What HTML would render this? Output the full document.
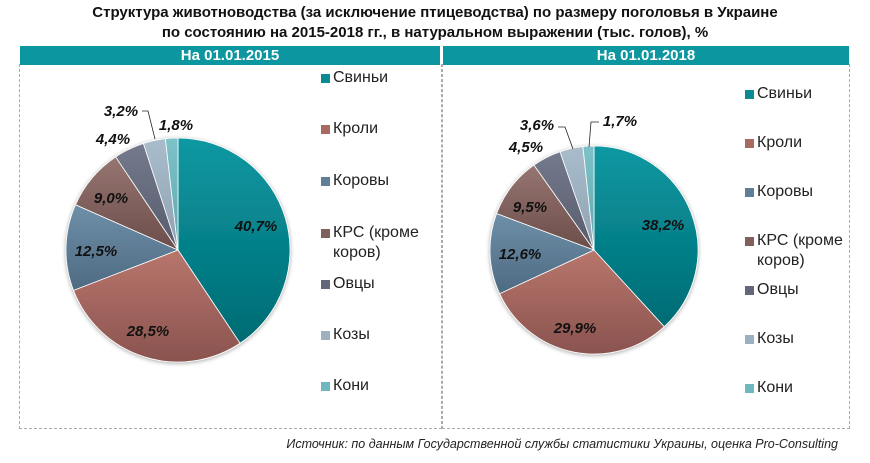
<!DOCTYPE html>
<html><head><meta charset="utf-8"><style>
body{margin:0;width:870px;height:463px;background:#fff;font-family:"Liberation Sans",sans-serif;overflow:hidden;position:relative}
.t{position:absolute;left:0;width:870px;text-align:center;font-weight:bold;font-size:15px;color:#111}
.bar{position:absolute;top:46px;height:19px;background:#0b96a0;color:#fff;font-weight:bold;font-size:15px;text-align:center;line-height:19px}
.panel{position:absolute;border:1px dashed #aaa;border-top:none}
.lg{position:absolute;font-size:16px;color:#222;line-height:20px}
.lg i{position:absolute;left:-12px;top:6px;width:9px;height:9px}
.src{position:absolute;right:32px;top:437px;font-size:12.5px;font-style:italic;color:#222}
</style></head><body>
<div class="t" style="top:4px">Структура животноводства (за исключение птицеводства) по размеру поголовья в Украине</div>
<div class="t" style="top:24px">по состоянию на 2015-2018 гг., в натуральном выражении (тыс. голов), %</div>
<div class="panel" style="left:19px;top:64px;width:421px;height:364px"></div>
<div class="panel" style="left:442px;top:64px;width:406px;height:364px"></div>
<div class="bar" style="left:20px;width:420px">На 01.01.2015</div>
<div class="bar" style="left:443px;width:406px">На 01.01.2018</div>
<svg width="870" height="463" style="position:absolute;left:0;top:0" id="s">
<defs>
<filter id="sh" x="-20%" y="-20%" width="140%" height="140%"><feGaussianBlur in="SourceAlpha" stdDeviation="2"/><feOffset dx="0" dy="1"/><feComponentTransfer><feFuncA type="linear" slope="0.35"/></feComponentTransfer><feMerge><feMergeNode/><feMergeNode in="SourceGraphic"/></feMerge></filter>
<linearGradient id="g0" x1="0" y1="0" x2="0" y2="1"><stop offset="0" stop-color="#0c98a2"/><stop offset="1" stop-color="#006b73"/></linearGradient>
<linearGradient id="g1" x1="0" y1="0" x2="0" y2="1"><stop offset="0" stop-color="#b8766c"/><stop offset="1" stop-color="#8a534f"/></linearGradient>
<linearGradient id="g2" x1="0" y1="0" x2="0" y2="1"><stop offset="0" stop-color="#6f8fa8"/><stop offset="1" stop-color="#4d6a82"/></linearGradient>
<linearGradient id="g3" x1="0" y1="0" x2="0" y2="1"><stop offset="0" stop-color="#967571"/><stop offset="1" stop-color="#6b4d4a"/></linearGradient>
<linearGradient id="g4" x1="0" y1="0" x2="0" y2="1"><stop offset="0" stop-color="#747a8c"/><stop offset="1" stop-color="#575b6c"/></linearGradient>
<linearGradient id="g5" x1="0" y1="0" x2="0" y2="1"><stop offset="0" stop-color="#a9bccb"/><stop offset="1" stop-color="#8ea2b3"/></linearGradient>
<linearGradient id="g6" x1="0" y1="0" x2="0" y2="1"><stop offset="0" stop-color="#7cc2c8"/><stop offset="1" stop-color="#5fa9b0"/></linearGradient>
</defs>
<g id="p1" filter="url(#sh)"></g><g id="p2" filter="url(#sh)"></g>
<g font-family="Liberation Sans" font-weight="bold" font-style="italic" font-size="15" fill="#111" text-anchor="middle">
<text x="256" y="231">40,7%</text><text x="148" y="336">28,5%</text><text x="96" y="256">12,5%</text><text x="111" y="203">9,0%</text><text x="113" y="144">4,4%</text><text x="121" y="116">3,2%</text><text x="176" y="130">1,8%</text>
<text x="663" y="230">38,2%</text><text x="575" y="333">29,9%</text><text x="520" y="259">12,6%</text><text x="530" y="212">9,5%</text><text x="526" y="152">4,5%</text><text x="537" y="130">3,6%</text><text x="620" y="126">1,7%</text>
</g>
<g stroke="#222" stroke-width="0.8" fill="none">
<polyline points="142,111 148,111 155,139"/>
<polyline points="558,127 565,127 573,149"/>
<polyline points="599,122 591,122 589,147"/>
</g>
</svg>
<div class="lg" style="left:333px;top:68px"><i style="background:#0b8a94"></i>Свиньи</div>
<div class="lg" style="left:333px;top:119px"><i style="background:#a8695f"></i>Кроли</div>
<div class="lg" style="left:333px;top:171px"><i style="background:#5f7f98"></i>Коровы</div>
<div class="lg" style="left:333px;top:223px"><i style="background:#80605c"></i>КРС (кроме<br>коров)</div>
<div class="lg" style="left:333px;top:274px"><i style="background:#636779"></i>Овцы</div>
<div class="lg" style="left:333px;top:325px"><i style="background:#9db0c0"></i>Козы</div>
<div class="lg" style="left:333px;top:376px"><i style="background:#6fb7be"></i>Кони</div>
<div class="lg" style="left:757px;top:84px"><i style="background:#0b8a94"></i>Свиньи</div>
<div class="lg" style="left:757px;top:133px"><i style="background:#a8695f"></i>Кроли</div>
<div class="lg" style="left:757px;top:182px"><i style="background:#5f7f98"></i>Коровы</div>
<div class="lg" style="left:757px;top:231px"><i style="background:#80605c"></i>КРС (кроме<br>коров)</div>
<div class="lg" style="left:757px;top:280px"><i style="background:#636779"></i>Овцы</div>
<div class="lg" style="left:757px;top:329px"><i style="background:#9db0c0"></i>Козы</div>
<div class="lg" style="left:757px;top:378px"><i style="background:#6fb7be"></i>Кони</div>
<div class="src">Источник: по данным Государственной службы статистики Украины, оценка Pro-Consulting</div>
<script>
function pie(id,cx,cy,r,vals){var g=document.getElementById(id),tot=vals.reduce((a,b)=>a+b,0),a=0,h='';
vals.forEach(function(v,i){var a2=a+v/tot*2*Math.PI;var x1=cx+r*Math.sin(a),y1=cy-r*Math.cos(a),x2=cx+r*Math.sin(a2),y2=cy-r*Math.cos(a2);
h+='<path d="M'+cx+','+cy+'L'+x1+','+y1+'A'+r+','+r+' 0 '+((a2-a)>Math.PI?1:0)+' 1 '+x2+','+y2+'Z" fill="url(#g'+i+')" stroke="#fff" stroke-width="0.8"/>';a=a2;});
g.innerHTML=h;}
pie('p1',178,250,112,[40.7,28.5,12.5,9.0,4.4,3.2,1.8]);
pie('p2',594,250,104,[38.2,29.9,12.6,9.5,4.5,3.6,1.7]);
</script>
</body></html>
